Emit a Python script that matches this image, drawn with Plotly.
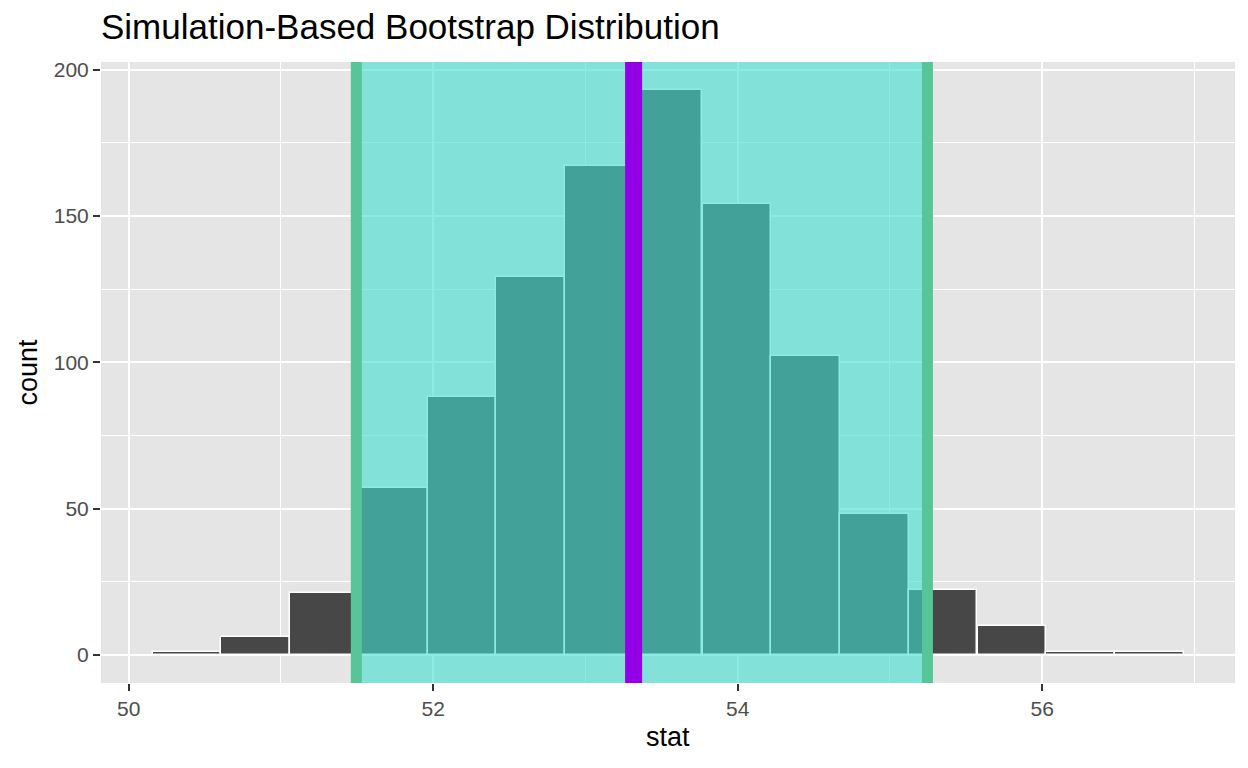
import plotly.graph_objects as go

# Histogram bins (centers) and counts
bin_centers = [50.383, 50.834, 51.286, 51.737, 52.189, 52.640, 53.092, 53.543,
               53.995, 54.446, 54.898, 55.349, 55.801, 56.252, 56.704]
counts = [1, 6, 21, 57, 88, 129, 167, 193, 154, 102, 48, 22, 10, 1, 1]

# Confidence interval endpoints and the observed statistic
ci_lower = 51.495
ci_upper = 55.246
obs_stat = 53.316

x_ticks = [50, 52, 54, 56]
y_ticks = [0, 50, 100, 150, 200]

bin_width = bin_centers[1] - bin_centers[0]
FONT = "Liberation Sans, Arial, Helvetica, sans-serif"

fig = go.Figure()
fig.add_trace(go.Bar(
    x=bin_centers, y=counts, width=bin_width,
    marker=dict(color="#474747", line=dict(color="white", width=1.5)),
    hoverinfo="x+y", showlegend=False,
))

shapes = [
    dict(type="rect", xref="x", yref="paper", x0=ci_lower, x1=ci_upper, y0=0, y1=1,
         fillcolor="rgba(64,224,208,0.6)", line=dict(width=0), layer="above"),
    dict(type="line", xref="x", yref="paper", x0=ci_lower, x1=ci_lower, y0=0, y1=1,
         line=dict(color="#57C697", width=11), layer="above"),
    dict(type="line", xref="x", yref="paper", x0=ci_upper, x1=ci_upper, y0=0, y1=1,
         line=dict(color="#57C697", width=11), layer="above"),
    dict(type="line", xref="x", yref="paper", x0=obs_stat, x1=obs_stat, y0=0, y1=1,
         line=dict(color="#9400E6", width=17), layer="above"),
]

annotations = [
    dict(text="Simulation-Based Bootstrap Distribution", xref="paper", yref="paper",
         x=0, y=1, xanchor="left", yanchor="bottom", xshift=-2, yshift=14, showarrow=False,
         font=dict(family=FONT, size=35, color="black")),
    dict(text="stat", xref="paper", yref="paper", x=0.5, y=0, xanchor="center",
         yanchor="middle", yshift=-54, showarrow=False,
         font=dict(family=FONT, size=27, color="black")),
    dict(text="count", xref="paper", yref="paper", x=0, y=0.5, xanchor="center",
         yanchor="middle", xshift=-74, textangle=-90, showarrow=False,
         font=dict(family=FONT, size=27, color="black")),
]

fig.update_layout(
    width=1248, height=768,
    margin=dict(l=93, r=21, t=54, b=93, autoexpand=False),
    paper_bgcolor="white", plot_bgcolor="#E5E5E5",
    bargap=0, shapes=shapes, annotations=annotations,
    font=dict(family=FONT),
)
fig.update_xaxes(
    range=[49.818, 57.266], tickvals=x_ticks, ticktext=[str(v) for v in x_ticks],
    showgrid=True, gridcolor="white", gridwidth=2, zeroline=False, showline=False,
    ticks="outside", ticklen=7, tickwidth=2, tickcolor="#333333",
    tickfont=dict(family=FONT, size=21, color="#4D4D4D"),
    minor=dict(tickvals=[49, 51, 53, 55, 57], showgrid=True, gridcolor="white", gridwidth=1),
)
fig.update_yaxes(
    range=[-9.65, 202.65], tickvals=y_ticks, ticktext=[str(v) for v in y_ticks],
    showgrid=True, gridcolor="white", gridwidth=2, zeroline=False, showline=False,
    ticks="outside", ticklen=7, tickwidth=2, tickcolor="#333333",
    tickfont=dict(family=FONT, size=21, color="#4D4D4D"),
    minor=dict(tickvals=[25, 75, 125, 175], showgrid=True, gridcolor="white", gridwidth=1),
)

fig.write_html("out.html")
